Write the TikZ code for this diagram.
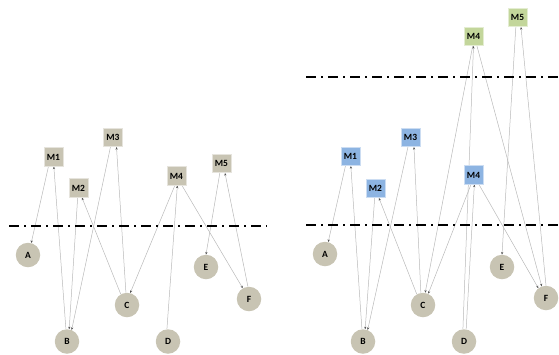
\documentclass[tikz,border=0pt]{standalone}
\usepackage{fontspec}
\setmainfont{Carlito}
\usetikzlibrary{arrows.meta,backgrounds}
\definecolor{stone}{RGB}{200,196,179}
\definecolor{skyblue}{RGB}{141,180,226}
\definecolor{leaf}{RGB}{195,214,155}
\definecolor{wire}{RGB}{185,185,185}
\definecolor{tipgray}{RGB}{80,80,80}

\begin{document}
\begin{tikzpicture}[x=1pt,y=-1pt,
    font=\fontsize{9.5}{11}\selectfont\bfseries,
    site/.style={circle,fill=stone,minimum size=24.5pt,inner sep=0pt},
    mod/.style={rectangle,fill=#1,draw=white!55!#1,line width=0.6pt,
      minimum width=19pt,minimum height=18.5pt,inner sep=0pt},
    mod/.default=stone,
    flow/.style={draw=wire,line width=0.5pt,
      -{Stealth[length=2.6pt,width=2.2pt,color=tipgray]}},
    cut/.style={line width=1.3pt,dash pattern=on 10pt off 5pt on 2pt off 5pt}]
      \useasboundingbox (0,0) rectangle (559,354);

      \node[mod] (m1) at (53.5,157) {M1};
      \node[mod] (m2) at (78.5,188) {M2};
      \node[mod] (m3) at (113,137.5) {M3};
      \node[mod] (m4) at (176.5,176) {M4};
      \node[mod] (m5) at (221.5,163.5) {M5};

      \node[site] (a) at (28,255) {A};
      \node[site] (b) at (67,341.5) {B};
      \node[site] (c) at (127,305) {C};
      \node[site] (d) at (168,341.5) {D};
      \node[site] (e) at (206,267) {E};
      \node[site] (f) at (249,299) {F};

      \node[mod=leaf] (m4t) at (473.5,36.5) {M4};
      \node[mod=leaf] (m5t) at (517.5,17.5) {M5};
      \node[mod=skyblue] (m1r) at (350.5,156.5) {M1};
      \node[mod=skyblue] (m2r) at (375.5,188.5) {M2};
      \node[mod=skyblue] (m3r) at (410.5,137.5) {M3};
      \node[mod=skyblue] (m4r) at (473.5,175) {M4};

      \node[site] (ar) at (325,254) {A};
      \node[site] (br) at (363,341.5) {B};
      \node[site] (cr) at (423,305) {C};
      \node[site] (dr) at (464,341.5) {D};
      \node[site] (er) at (502,267) {E};
      \node[site] (fr) at (546,298) {F};

      \coordinate (s1) at (9,226);
      \coordinate (s2) at (267,226);
      \coordinate (s3) at (306,225);
      \coordinate (s4) at (559,225);
      \coordinate (s5) at (306,77);
      \coordinate (s6) at (559,77);
      \draw[cut] (s1) -- (s2);
      \draw[cut] (s3) -- (s4);
      \draw[cut] (s5) -- (s6);

      \begin{scope}[on background layer]
      \draw[flow] (m1.-118) to (a.75);
      \draw[flow] (b.95) to (m1.-88);
      \draw[flow] (m2.-95) to (b.80);
      \draw[flow] (m3.-105) to (b.68);
      \draw[flow] (c.95) to (m3.-70);
      \draw[flow] (c.120) to (m2.-70);
      \draw[flow] (m4.-100) to (c.75);
      \draw[flow] (d.95) to (m4.-85);
      \draw[flow] (m4.-60) to (f.120);
      \draw[flow] (m5.-100) to (e.90);
      \draw[flow] (f.95) to (m5.-70);

      \draw[flow] (m1r.-118) to (ar.75);
      \draw[flow] (br.95) to (m1r.-88);
      \draw[flow] (m2r.-95) to (br.80);
      \draw[flow] (m3r.-105) to (br.68);
      \draw[flow] (cr.100) to (m3r.-70);
      \draw[flow] (cr.120) to (m2r.-70);
      \draw[flow] (m4t.-95) to (cr.80);
      \draw[flow] (m4r.-105) to (cr.65);
      \draw[flow] (dr.95) to (m4t.-90);
      \draw[flow] (dr.80) to (m4r.-85);
      \draw[flow] (m4t.-70) to (fr.110);
      \draw[flow] (m4r.-60) to (fr.128);
      \draw[flow] (m5t.-100) to (er.90);
      \draw[flow] (fr.90) to (m5t.-70);
      \end{scope}
    \end{tikzpicture}
\end{document}
